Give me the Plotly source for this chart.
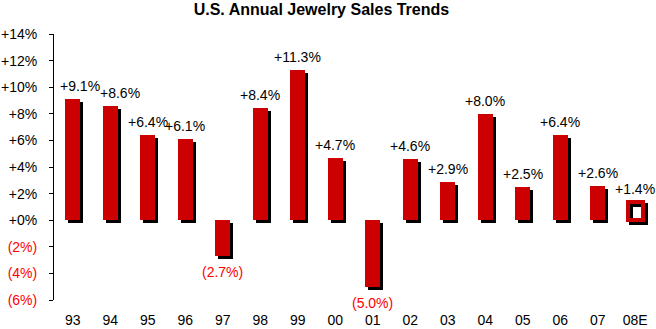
import plotly.graph_objects as go

categories = ["93", "94", "95", "96", "97", "98", "99", "00", "01", "02", "03", "04", "05", "06", "07", "08E"]
growth = [9.1, 8.6, 6.4, 6.1, -2.7, 8.4, 11.3, 4.7, -5.0, 4.6, 2.9, 8.0, 2.5, 6.4, 2.6, 1.4]
estimate = [False] * 15 + [True]
y_ticks = [-6, -4, -2, 0, 2, 4, 6, 8, 10, 12, 14]

FONT = "Liberation Sans, Arial, sans-serif"
RED = "#CC0000"
NEG = "#FF0000"

Y_MIN, Y_MAX = -6, 14
W, H = 656, 329
M = dict(l=54, r=2, t=34, b=29)
plot_w = W - M["l"] - M["r"]
plot_h = H - M["t"] - M["b"]
n = len(categories)
px_x = plot_w / n              # px per category
px_y = plot_h / (Y_MAX - Y_MIN)  # px per percent
dx = 3 / px_x
dy = 3 / px_y
BW = 15 / px_x

xs = list(range(n))


def fmt(v):
    return f"+{v:.1f}%" if v >= 0 else f"({abs(v):.1f}%)"


def tfmt(v):
    if v < 0:
        return f'<span style="color:{NEG}">({abs(v)}%)</span>'
    return f"+{v}%"


fig = go.Figure()

# shadow bars
fig.add_trace(go.Bar(
    x=[x + dx for x in xs], y=growth, base=[-dy] * n, width=BW,
    marker=dict(color=["rgba(0,0,0,0)" if e else "black" for e in estimate],
                line=dict(color="black", width=[4 if e else 0 for e in estimate])),
    hoverinfo="skip", showlegend=False,
))
# main bars
fig.add_trace(go.Bar(
    x=xs, y=growth, width=BW,
    marker=dict(color=["rgba(0,0,0,0)" if e else RED for e in estimate],
                line=dict(color=RED, width=[4 if e else 0 for e in estimate])),
    showlegend=False,
))

label_xshift = {0: 7, 1: 10}
for i, v in enumerate(growth):
    fig.add_annotation(
        x=i, y=v, text=fmt(v), showarrow=False, xref="x", yref="y",
        yshift=13 if v >= 0 else -16, xshift=label_xshift.get(i, 0),
        font=dict(family=FONT, size=14, color="black" if v >= 0 else NEG),
    )

fig.update_layout(
    width=W, height=H, margin=M,
    paper_bgcolor="white", plot_bgcolor="white",
    barmode="overlay", bargap=0,
    title=dict(text="<b>U.S. Annual Jewelry Sales Trends</b>", x=0.49, xanchor="center",
               y=1 - 9 / H, yanchor="middle",
               font=dict(family=FONT, size=16, color="black")),
    font=dict(family=FONT, size=14, color="black"),
    xaxis=dict(range=[-0.5, n - 0.5], tickvals=xs, ticktext=categories,
               showline=False, ticks="", showgrid=False, zeroline=False,
               ticklabelstandoff=10, tickfont=dict(family=FONT, size=14)),
    xaxis2=dict(range=[-0.5, n - 0.5], overlaying="x", anchor="free",
                position=(0 - Y_MIN) / (Y_MAX - Y_MIN),
                tickvals=[i - 0.5 for i in range(n + 1)], showticklabels=False,
                showline=True, linecolor="black", linewidth=1,
                ticks="outside", ticklen=5, tickcolor="black", showgrid=False, zeroline=False),
    yaxis=dict(range=[Y_MIN, Y_MAX], tickvals=y_ticks, ticktext=[tfmt(v) for v in y_ticks],
               showline=True, linecolor="black", linewidth=1, ticks="outside", ticklen=4,
               tickcolor="black", showgrid=False, zeroline=False, ticklabelstandoff=9,
               tickfont=dict(family=FONT, size=14)),
)

fig.write_html("out.html")
